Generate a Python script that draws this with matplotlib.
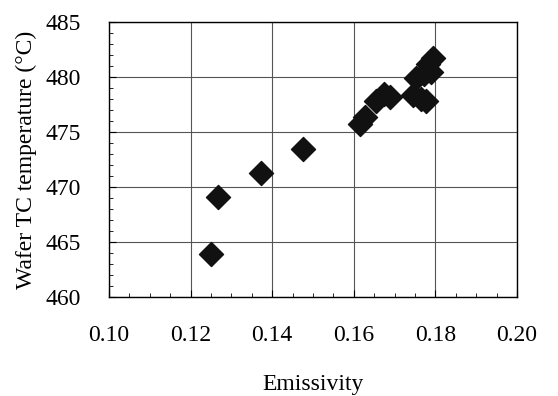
import matplotlib.pyplot as plt
from matplotlib.ticker import MultipleLocator

# emissivity vs wafer thermocouple temperature
emissivity = [0.125, 0.1268, 0.1372, 0.1475, 0.1615, 0.1628, 0.1655, 0.1675, 0.1688,
              0.1745, 0.1752, 0.1765, 0.1772, 0.1778, 0.1782, 0.1790, 0.1795]
temperature = [463.9, 469.1, 471.3, 473.5, 475.7, 476.4, 477.8, 478.5, 478.2,
               478.4, 479.9, 478.0, 480.3, 477.8, 481.2, 480.5, 481.7]

plt.rcParams['font.family'] = 'serif'
plt.rcParams['font.serif'] = ['Liberation Serif']

fig = plt.figure(figsize=(5.58, 3.96), dpi=100)
ax = fig.add_axes([0.1953, 0.25, 0.7312, 0.6944])

ax.scatter(emissivity, temperature, marker='D', s=150, color='#111111',
           edgecolors='#111111', zorder=3)

ax.set_xlim(0.10, 0.20)
ax.set_ylim(460, 485)
ax.xaxis.set_major_locator(MultipleLocator(0.02))
ax.xaxis.set_minor_locator(MultipleLocator(0.005))
ax.yaxis.set_major_locator(MultipleLocator(5))
ax.yaxis.set_minor_locator(MultipleLocator(1))
ax.xaxis.set_major_formatter(plt.FormatStrFormatter('%.2f'))
ax.tick_params(which='both', direction='in', labelsize=17, color='black')
ax.tick_params(which='major', length=5)
ax.tick_params(which='minor', length=3)
ax.tick_params(axis='x', which='major', pad=20)
ax.tick_params(axis='y', which='major', pad=20)
ax.grid(True, which='major', color='#555555', linewidth=0.8)
ax.set_axisbelow(True)
for s in ax.spines.values():
    s.set_linewidth(1.0)

ax.set_xlabel('Emissivity', fontsize=17, labelpad=20)
ax.set_ylabel('Wafer TC temperature (°C)', fontsize=17, labelpad=6)

fig.savefig('out.png', dpi=100)
